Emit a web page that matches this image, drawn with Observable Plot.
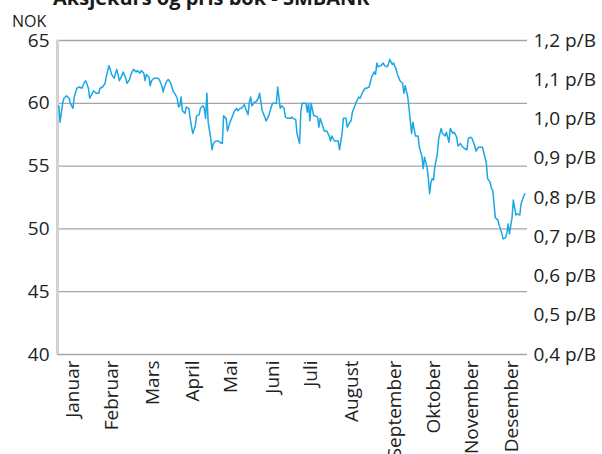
<!DOCTYPE html>
<html><head><meta charset="utf-8">
<script src="https://cdn.jsdelivr.net/npm/d3@7"></script>
<script src="https://cdn.jsdelivr.net/npm/@observablehq/plot@0.6"></script>
<style>
body{margin:0;background:#fff;font-family:"Open Sans",Roboto,sans-serif;}
#wrap{position:relative;width:602px;height:454px;overflow:hidden;}
#chart{position:absolute;left:0;top:0;}
#title{position:absolute;left:53px;top:-16px;font-size:20px;font-weight:bold;color:#1a1a1a;white-space:nowrap;z-index:2;line-height:normal;}
#unit{position:absolute;left:12px;top:10px;font-size:16px;color:#1a1a1a;z-index:2;line-height:normal;}
</style></head><body>
<div id="wrap"><div id="title">Aksjekurs og pris bok - SMBANK</div><div id="unit">NOK</div><div id="chart"></div></div>
<script>
// day of year (0 = 1 January) for each trading-day reading
const days = [1,2,4,5,7,9,10,12,13,15,17,19,21,22,24,25,27,28,30,32,33,35,37,38,40,41,42,44,46,47,48,50,51,53,54,56,57,59,61,62,64,65,67,68,69,71,72,73,75,76,78,79,81,82,83,85,86,88,90,91,93,94,95,96,97,99,100,102,103,105,107,108,110,111,113,114,115,116,117,119,120,121,123,125,126,128,129,131,132,134,136,137,139,140,142,143,145,146,148,149,150,151,153,154,156,157,158,159,161,162,164,166,167,169,170,171,173,174,176,177,179,181,182,183,185,186,188,189,190,191,193,194,195,196,197,199,200,202,203,204,206,207,209,211,212,213,215,216,218,219,221,222,224,225,227,228,229,231,232,234,235,237,239,240,242,243,244,246,247,248,249,251,253,254,256,257,258,260,261,263,264,266,268,269,270,272,273,274,275,276,278,280,281,283,284,285,287,288,289,290,291,292,293,295,296,298,299,301,302,304,305,307,308,310,311,313,314,316,318,319,321,322,324,325,327,328,330,331,333,334,336,337,338,339,340,342,343,345,346,348,349,350,351,353,354,356,357,359,360,362,363];
// share price, NOK
const nok = [59.8,58.5,60.0,60.4,60.6,60.4,60.0,59.6,60.5,61.2,61.3,61.2,61.7,61.8,61.2,60.4,60.8,61.0,60.8,60.8,61.2,61.3,61.6,62.2,63.0,62.7,62.3,62.0,62.7,62.3,61.8,62.2,62.5,62.0,61.6,61.9,62.3,62.7,62.5,62.6,62.4,62.6,62.4,61.8,62.3,62.1,61.4,61.8,62.0,62.0,62.0,61.9,61.4,60.9,61.3,61.8,61.9,61.6,60.9,60.8,60.4,59.7,59.8,60.5,59.4,59.2,59.7,59.6,58.8,57.6,58.2,59.0,59.1,59.6,59.8,59.6,58.8,60.8,58.5,57.2,56.3,56.8,57.0,57.0,56.9,56.8,59.0,58.8,57.8,58.5,59.0,59.3,59.6,59.4,59.6,59.6,59.9,59.6,59.1,60.1,60.5,59.8,60.1,60.1,60.4,60.8,60.1,59.4,58.9,58.6,59.0,59.7,60.0,60.0,60.0,61.3,59.6,59.8,59.6,58.9,58.8,58.8,58.9,58.8,58.7,57.6,56.8,59.4,60.0,60.0,60.0,59.3,60.0,58.6,60.0,59.0,59.0,58.9,58.1,58.8,58.2,57.8,57.8,57.4,57.0,57.4,57.0,57.0,57.0,56.3,57.6,58.8,58.8,58.1,58.5,58.6,59.3,59.8,60.1,60.5,60.4,60.9,61.2,61.2,61.3,61.7,62.1,62.5,62.3,63.2,62.9,63.0,63.2,63.0,62.9,63.1,63.5,63.1,63.2,62.7,62.3,61.8,61.6,60.8,61.4,60.5,59.6,58.6,57.6,58.5,57.4,57.4,56.5,55.8,54.8,55.7,54.9,54.0,52.8,53.7,54.0,53.9,54.9,56.0,57.2,58.0,57.6,57.4,57.7,56.9,58.0,57.6,57.7,57.3,56.6,56.8,56.6,56.4,56.3,57.2,57.3,57.2,56.6,56.2,56.5,56.5,56.5,56.1,55.3,54.0,53.7,53.2,53.1,52.0,50.9,50.7,50.3,49.7,49.2,49.3,49.7,50.4,49.6,50.9,52.3,51.1,51.2,51.1,52.0,52.6,52.8];
const months = ["Januar","Februar","Mars","April","Mai","Juni","Juli","August","September","Oktober","November","Desember"];
const monthTickDays = [12,42,74,105,135,167,197,229,262,292,322,353];
const nokTicks = [40,45,50,55,60,65];
const pbTicks = [0.4,0.5,0.6,0.7,0.8,0.9,1.0,1.1,1.2];
const pbLabels = ["0,4 p/B","0,5 p/B","0,6 p/B","0,7 p/B","0,8 p/B","0,9 p/B","1,0 p/B","1,1 p/B","1,2 p/B"];

const year = 2024;
const toDate = d => new Date(Date.UTC(year, 0, 1 + d));
const data = days.map((d, i) => ({date: toDate(d), nok: nok[i]}));
const xDomain = [toDate(0), toDate(365)];
const tickDates = monthTickDays.map(toDate);
const monthLabel = new Map(tickDates.map((d, i) => [+d, months[i]]));
// price-to-book axis shares the NOK scale: 40 NOK = 0,4 p/B, 65 NOK = 1,2 p/B
const pbToNok = pb => 40 + (pb - 0.4) * (65 - 40) / (1.2 - 0.4);
const pbPos = pbTicks.map(pbToNok);
const pbLabelMap = new Map(pbPos.map((v, i) => [v, pbLabels[i]]));

const chart = Plot.plot({
  width: 602, height: 454,
  marginLeft: 57, marginRight: 75, marginTop: 40, marginBottom: 100,
  style: {fontFamily: "'Open Sans', Roboto, sans-serif", color: "#222", background: "#fff"},
  x: {type: "utc", domain: xDomain},
  y: {domain: [40, 65]},
  marks: [
    Plot.gridY(nokTicks, {stroke: "#a6a6a6", strokeOpacity: 1, strokeWidth: 1.3}),
    Plot.ruleX([xDomain[0]], {stroke: "#d2d2d2", strokeWidth: 3}),
    Plot.axisY(nokTicks, {anchor: "left", tickSize: 0, tickPadding: 8, fontSize: 19, label: null}),
    Plot.axisY(pbPos, {anchor: "right", tickSize: 0, tickPadding: 6, fontSize: 19, label: null, tickFormat: v => pbLabelMap.get(v)}),
    Plot.axisX(tickDates, {anchor: "bottom", tickSize: 0, tickPadding: 6, tickRotate: -90, fontSize: 19, label: null, tickFormat: d => monthLabel.get(+d)}),
    Plot.lineY(data, {x: "date", y: "nok", stroke: "#1aa7e4", strokeWidth: 1.5})
  ]
});
document.getElementById("chart").appendChild(chart);
</script>
</body></html>
